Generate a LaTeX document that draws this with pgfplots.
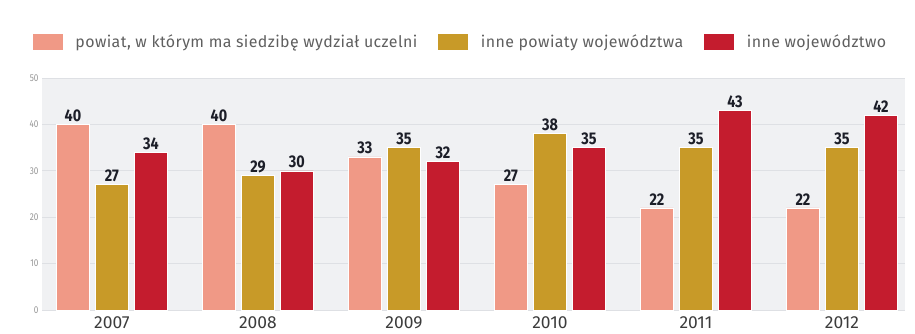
\documentclass[border=0pt]{standalone}
\usepackage{pgfplots}
\pgfplotsset{compat=1.18}
\usepackage{fontspec}
\setmainfont{Fira Sans}
\newfontfamily\condfont[FakeStretch=0.82]{Fira Sans}
\newfontfamily\legfont[LetterSpace=2.5]{Fira Sans}
\newfontfamily\numfont[FakeStretch=0.85]{Fira Sans}
\definecolor{cSalmon}{RGB}{240,153,134}
\definecolor{cGold}{RGB}{200,154,40}
\definecolor{cRed}{RGB}{196,28,46}
\definecolor{cBg}{RGB}{240,241,243}
\definecolor{cGrid}{RGB}{222,224,228}
\definecolor{cNum}{RGB}{28,30,40}
\definecolor{cTick}{RGB}{150,150,150}
\definecolor{cLeg}{RGB}{95,95,95}
\definecolor{cYear}{RGB}{60,60,60}
\begin{document}
\begin{tikzpicture}[x=1bp,y=1bp]
\useasboundingbox (0,0) rectangle (915,333);
\begin{axis}[
  at={(42bp,23bp)}, anchor=south west,
  scale only axis, width=863bp, height=232bp,
  ybar=6bp, bar width=33bp,
  xmin=-0.479, xmax=5.432,
  ymin=0, ymax=50,
  ytick={0,10,20,30,40,50},
  xtick=data,
  xticklabels={2007,2008,2009,2010,2011,2012},
  axis line style={draw=none},
  major tick length=0pt,
  axis background/.style={fill=cBg},
  ymajorgrids, grid style={cGrid, line width=0.8bp},
  yticklabel style={font=\fontsize{10}{10}\selectfont\condfont, text=cTick},
  /pgf/number format/assume math mode=true,
  xticklabel style={font=\fontsize{17.5}{17.5}\selectfont, text=cYear, yshift=-3bp},
  nodes near coords,
  every node near coord/.append style={font=\fontsize{17}{17}\selectfont\numfont\bfseries, text=cNum, yshift=-1bp},
  legend columns=3,
  legend style={at={(-0.012,1.155)}, anchor=west, draw=none, fill=none,
    font=\fontsize{16}{16}\selectfont\legfont, text=cLeg,
    /tikz/every odd column/.append style={column sep=10bp},
    /tikz/every even column/.append style={column sep=18bp},
    inner sep=0pt},
  legend image code/.code={\fill[#1] (0bp,-8.5bp) rectangle (31bp,8.5bp);},
]
\addplot[fill=cSalmon, draw=white, line width=0.6bp] coordinates {(0,40) (1,40) (2,33) (3,27) (4,22) (5,22)};
\addplot[fill=cGold, draw=white, line width=0.6bp] coordinates {(0,27) (1,29) (2,35) (3,38) (4,35) (5,35)};
\addplot[fill=cRed, draw=white, line width=0.6bp] coordinates {(0,34) (1,30) (2,32) (3,35) (4,43) (5,42)};
\legend{{powiat, w którym ma siedzibę wydział uczelni}, {inne powiaty województwa}, {inne województwo}}
\end{axis}
\end{tikzpicture}
\end{document}
